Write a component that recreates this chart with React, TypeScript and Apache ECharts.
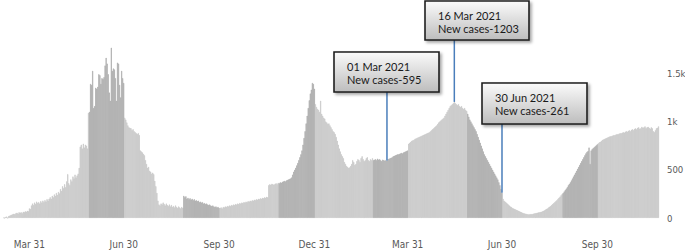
import React, { useEffect, useRef } from 'react';
import * as echarts from 'echarts';

// Daily new cases (starting 2020-03-06)
const casesMarJun2020 = [
  5, 0, 10, 15, 0, 20, 25, 30, 35, 40,
  45, 40, 50, 55, 45, 60, 55, 60, 50, 65,
  60, 70, 65, 75, 70,
  100, 95, 130, 150, 135, 160, 145, 170, 155, 165,
  150, 175, 160, 180, 165, 185, 170, 195, 180, 200,
  215, 200, 230, 215, 245, 230, 260, 240, 270, 255,
  300, 280, 330, 310, 350, 320, 380, 455, 360, 340,
  400, 380, 430, 410, 450, 420, 440, 460, 520, 740,
  760, 720, 770, 730, 760,
  750, 720, 1090, 1100, 1390, 1380, 1525, 1140, 1160, 1350,
  1340, 1360, 1490, 1480, 1390, 1450, 1440, 1460, 1580, 1660,
  1600, 1490, 1300, 1215, 1765, 1525, 1550, 1540, 1450, 1215,
  1610, 1600, 1380, 1250, 1525, 1450, 1400,
];
const casesJulSep2020 = [
  1040, 1020, 990, 960, 940, 935, 930, 910, 920, 900,
  890, 880, 870, 880, 860, 700, 690, 680, 665, 650,
  600, 560, 520, 530, 490, 480, 460, 470, 455, 385,
  330, 260, 180, 140,
  130, 150, 140, 160, 145, 130, 150, 135, 125, 140,
  120, 135, 115, 125, 110, 130, 115, 105, 120, 110, 100, 115, 105,
  230, 215, 225, 200, 210, 195, 205, 190, 200, 185,
  195, 180, 185, 175, 180, 165, 170, 160, 165, 150,
  155, 145, 150, 140, 135, 140, 130, 125, 130, 120, 115, 120, 110, 115, 105,
];
const casesOctDec2020 = [
  105, 110, 100, 115, 110, 120, 115, 125, 120, 130,
  125, 135, 130, 140, 135, 145, 140, 150, 145, 155, 150, 160,
  155, 165, 160, 170, 165, 175, 170, 180, 175, 185, 180, 190,
  185, 195, 190, 200, 195, 205, 200, 210, 205, 215, 210, 220, 215,
  340, 350, 345, 355, 350, 345, 355, 360, 350, 365,
  360, 370, 365, 375, 380, 385, 380, 390, 395, 400, 405, 410, 420,
  450, 480, 500, 520, 545, 570, 600, 630, 660, 700,
  760, 830, 900, 980, 1060, 1140, 1220, 1290, 1330, 1400, 1390, 1340,
];
const casesJanMar2021 = [
  1180, 1150, 1130, 1120, 1100, 1215, 1080, 1060, 1040, 1030, 1000, 990, 975,
  980, 960, 940, 920, 900, 890, 870,
  840, 800, 760, 720, 690, 660, 640, 620,
  580, 560, 540, 530, 520, 525,
  540, 560, 600, 580, 550, 560, 590, 610, 600, 580, 620, 640,
  610, 590, 600, 620, 630, 600, 590, 610, 600, 620,
  600, 605, 610, 600, 615, 605, 610, 600, 590, 605, 600, 595,
  600, 595, 610, 615, 620, 625, 630, 640, 645, 650, 655, 660,
  660, 665, 670, 675, 670, 680, 685, 690, 695, 700,
];
const casesAprJun2021 = [
  770, 780, 790, 800, 805, 810, 820, 825, 830, 835,
  840, 845, 850, 855, 860, 865, 870, 875, 880, 885, 890,
  900, 910, 920, 930, 940, 950, 960, 975, 990, 1000, 1010, 1020, 1030, 1040, 1060, 1080, 1100,
  1120, 1140, 1160, 1170, 1180, 1190, 1203,
  1190, 1180, 1170, 1180, 1160, 1150, 1160, 1140, 1130, 1140, 1120, 1110,
  1080, 1050, 1020, 1000, 980, 960, 940, 920, 900, 870,
  840, 810, 780, 750, 720, 690, 660, 640, 620,
  600, 580, 560, 540, 520, 500, 480, 460, 440, 420, 400, 370, 340, 300, 261,
];
const casesJulNov2021 = [
  200, 180, 170, 160, 150, 140, 130, 120, 115, 105, 100,
  95, 90, 85, 80, 75, 70, 65, 60, 55, 50, 48, 45, 42, 40,
  38, 40, 42, 40, 45, 48, 50, 52, 55, 58, 60, 62, 65, 70,
  75, 80, 88, 95, 100, 110, 118, 125, 135, 145, 155, 165, 175, 185, 198, 210, 222, 235, 248,
  260, 275, 290, 305, 320, 340, 355, 370, 390, 410, 430, 450, 470, 490, 510, 530, 550, 570, 590, 610, 630, 650, 670, 685, 695,
  730, 560,
  700, 715, 725, 735, 745, 755, 765,
  775, 785, 790, 800, 810, 815, 820, 825, 830, 835, 840, 845, 848, 850,
  855, 860, 858, 865, 870, 868, 875, 880, 878, 885, 890, 885, 895, 900, 895,
  905, 910, 900, 915, 920, 910, 925, 930, 920, 935, 940, 925, 930, 945, 935, 940, 950, 930, 940, 945, 935, 925, 940, 930, 900, 890, 910, 930, 935, 950,
];

const START_DATE = '2020-03-06';

// Darker shaded periods (start, end inclusive)
const darkPeriods: [string, string][] = [
  ['2020-05-28', '2020-06-30'],
  ['2020-08-27', '2020-09-30'],
  ['2020-11-27', '2020-12-31'],
  ['2021-02-26', '2021-03-31'],
  ['2021-05-28', '2021-06-30'],
  ['2021-08-28', '2021-09-30'],
];

const tickDates = ['2020-03-31', '2020-06-30', '2020-09-30', '2020-12-31', '2021-03-31', '2021-06-30', '2021-09-30'];
const tickLabels = ['Mar 31', 'Jun 30', 'Sep 30', 'Dec 31', 'Mar 31', 'Jun 30', 'Sep 30'];

const callouts = [
  { title: '01 Mar 2021', text: 'New cases-595', anchor: '2021-03-11', value: 595 },
  { title: '16 Mar 2021', text: 'New cases-1203', anchor: '2021-05-15', value: 1203 },
  { title: '30 Jun 2021', text: 'New cases-261', anchor: '2021-06-30', value: 261 },
];

// layout of the callout boxes (pixels)
const boxLayout = [
  { x: 334, y: 52, w: 105, h: 40 },
  { x: 425, y: 1, w: 104, h: 39 },
  { x: 482, y: 83, w: 105, h: 41 },
];

const cases = [
  ...casesMarJun2020,
  ...casesJulSep2020,
  ...casesOctDec2020,
  ...casesJanMar2021,
  ...casesAprJun2021,
  ...casesJulNov2021,
];

const startMs = Date.parse(START_DATE + 'T00:00:00Z');
const dates = cases.map((_, i) => new Date(startMs + i * 86400000).toISOString().slice(0, 10));

const DARK = '#aaaaaa';
const LIGHT = '#c6c6c6';
const AXIS_FONT = "'Liberation Sans Narrow', 'DejaVu Sans Condensed', Arial, sans-serif";

function isDark(d: string) {
  return darkPeriods.some(([a, b]) => d >= a && d <= b);
}

export default function App() {
  const ref = useRef<HTMLDivElement>(null);
  useEffect(() => {
    const chart = echarts.init(ref.current!, null, { renderer: 'svg' });
    const tickMap: Record<string, string> = {};
    tickDates.forEach((d, i) => (tickMap[d] = tickLabels[i]));
    chart.setOption({
      animation: false,
      grid: { left: 3, right: 26, top: 25, bottom: 33, outerBoundsMode: 'none', containLabel: false },
      xAxis: {
        type: 'category',
        data: dates,
        axisLine: { show: false },
        axisTick: { show: false },
        splitLine: { show: false },
        axisLabel: {
          interval: (_i: number, v: string) => v in tickMap,
          formatter: (v: string) => tickMap[v] || '',
          color: '#595959',
          fontSize: 10,
          fontFamily: AXIS_FONT,
          margin: 21,
        },
      },
      yAxis: {
        type: 'value',
        position: 'right',
        min: 0,
        max: 2000,
        interval: 500,
        splitLine: { show: false },
        axisLine: { show: false },
        axisTick: { show: false },
        axisLabel: {
          align: 'left',
          margin: 8,
          color: '#595959',
          fontSize: 9.5,
          fontFamily: AXIS_FONT,
          formatter: (v: number) => (v > 1500 ? '' : v >= 1000 ? v / 1000 + 'k' : String(v)),
        },
      },
      series: [
        {
          type: 'bar',
          barCategoryGap: '0%',
          barGap: '0%',
          silent: true,
          data: cases.map((v, i) => {
            const col = isDark(dates[i]) ? DARK : LIGHT;
            return {
              value: v,
              itemStyle: { color: col, borderColor: col, borderWidth: 0.6 },
            };
          }),
        },
      ],
    });

    const graphics: any[] = [];
    callouts.forEach((c, k) => {
      const b = boxLayout[k];
      const idx = dates.indexOf(c.anchor);
      const p = chart.convertToPixel({ gridIndex: 0 }, [idx, c.value]) as number[];
      graphics.push({
        type: 'line',
        silent: true,
        z: 10,
        shape: { x1: p[0], y1: b.y + b.h, x2: p[0], y2: p[1] },
        style: { stroke: '#4a7ebb', lineWidth: 1.5 },
      });
      graphics.push({
        type: 'rect',
        silent: true,
        z: 11,
        shape: { x: b.x, y: b.y, width: b.w, height: b.h },
        style: {
          fill: new echarts.graphic.LinearGradient(0, 0, 0, 1, [
            { offset: 0, color: '#fbfbfb' },
            { offset: 1, color: '#bdbdbd' },
          ]),
          stroke: '#1e1e1e',
          lineWidth: 1.6,
          shadowBlur: 3,
          shadowOffsetX: 2,
          shadowOffsetY: 2,
          shadowColor: 'rgba(0,0,0,0.35)',
        },
      });
      graphics.push({
        type: 'text',
        silent: true,
        z: 12,
        x: b.x + 13,
        y: b.y + 14,
        style: { text: c.title, fill: '#1a1a1a', font: "11px Lato, 'Noto Sans', sans-serif", verticalAlign: 'middle' },
      });
      graphics.push({
        type: 'text',
        silent: true,
        z: 12,
        x: b.x + 13,
        y: b.y + 27.5,
        style: { text: c.text, fill: '#1a1a1a', font: "11px Lato, 'Noto Sans', sans-serif", verticalAlign: 'middle' },
      });
    });
    chart.setOption({ graphic: graphics });
    return () => chart.dispose();
  }, []);
  return <div ref={ref} style={{ position: 'absolute', left: 0, top: 0, width: 685, height: 251 }} />;
}
